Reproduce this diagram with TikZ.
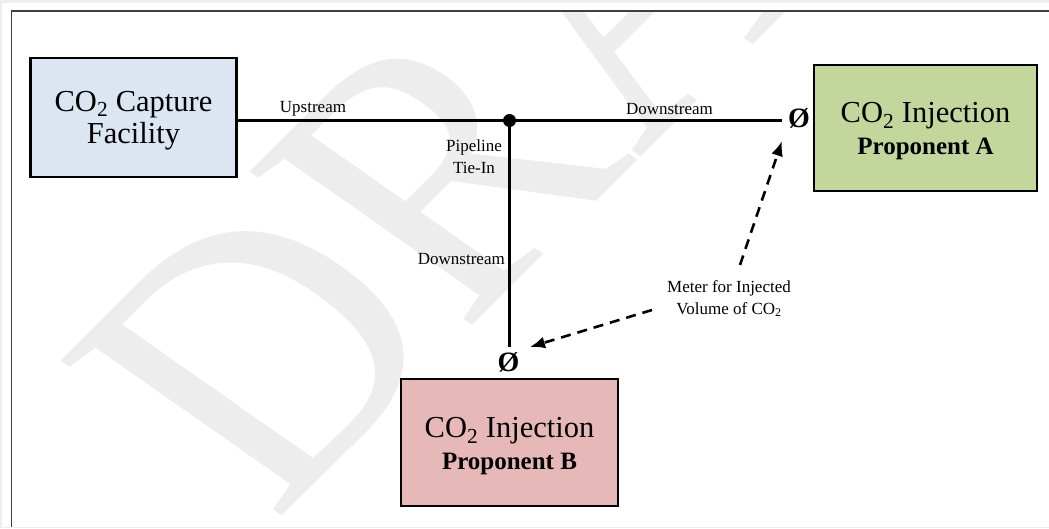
\documentclass[tikz,border=0pt]{standalone}
\usepackage{fontspec}
\setmainfont{Liberation Serif}
\usetikzlibrary{arrows.meta}
\definecolor{capblue}{HTML}{DCE6F2}
\definecolor{injgreen}{HTML}{C3D69B}
\definecolor{injpink}{HTML}{E6B9B8}
\definecolor{outergray}{HTML}{EEEEEE}
\definecolor{wmgray}{HTML}{EDEDED}
\definecolor{framegray}{HTML}{404040}
\begin{document}
\begin{tikzpicture}[x=1pt,y=1pt,
  box/.style={draw=black, line width=2.4pt, inner sep=0pt},
  boxtext/.style={align=center, inner sep=0pt, font=\fontsize{30.5}{32}\selectfont},
  pipe/.style={draw=black, line width=2.3pt},
  meterarrow/.style={draw=black, line width=2.6pt, dash pattern=on 10pt off 7pt, -{Latex[length=15pt,width=12pt]}},
  small/.style={font=\fontsize{17}{22}\selectfont, inner sep=0pt, align=center},
  valve/.style={font=\fontsize{28}{28}\selectfont\bfseries, inner sep=0pt}
]
\useasboundingbox (0,0) rectangle (1049,528);
\fill[outergray] (0,0) rectangle (1049,528);
\fill[white] (1.5,1.5) rectangle (1049,525);
\begin{scope}
  \clip (11.5,1.5) rectangle (1049,517);
  \node[cm={0.636,0.636,-0.819,0.574,(0,0)}, anchor=base west, text=wmgray, inner sep=0pt,
        font=\fontsize{412}{412}\selectfont] (wm) at (274,4) {DRAFT};
\end{scope}
\draw[framegray, line width=1.6pt] (11.5,1.5) -- (11.5,517) -- (1049,517);

% boxes
\node[box, fill=capblue, minimum width=206pt, minimum height=119pt] (cap) at (133.5,410.5) {};
\node[boxtext] (captxt) at ([yshift=-3pt]cap.center) {CO\textsubscript{2} Capture\\Facility};
\node[box, fill=injgreen, minimum width=223pt, minimum height=126pt] (inja) at (925.5,400) {};
\node[boxtext] (injatxt) at ([yshift=-3.5pt]inja.center)
  {CO\textsubscript{2} Injection\\{\fontsize{25}{28}\selectfont\bfseries Proponent A}};
\node[box, fill=injpink, minimum width=217pt, minimum height=127pt] (injb) at (509.5,85.5) {};
\node[boxtext] (injbtxt) at ([yshift=-4pt]injb.center)
  {CO\textsubscript{2} Injection\\{\fontsize{25}{28}\selectfont\bfseries Proponent B}};

% tie-in and valves
\coordinate (tie) at (509.5,407.5);
\node[valve] (va) at (799,410) {Ø};
\node[valve] (vb) at (508.5,166) {Ø};

\draw[pipe] (tie -| cap.east) -- (tie);
\draw[pipe] (tie) -- (782,407.5);
\draw[pipe] (tie) -- (509.5,181);
\fill (tie) circle (6.5pt);

% labels
\node[small] (up) at (313,419) {Upstream};
\node[small] (downa) at (669.5,419) {Downstream};
\node[small] (tielbl) at (474,371) {Pipeline\\Tie-In};
\node[small, anchor=east] (downb) at (505,268.5) {Downstream};
\node[small] (meter) at (729,229.5) {Meter for Injected\\Volume of CO\textsubscript{2}};

% meter arrows
\coordinate (m1) at (740,263);
\coordinate (m2) at (652,218);
\coordinate (ta) at (782,387);
\coordinate (tb) at (530,181);
\draw[meterarrow] (m1) -- (ta);
\draw[meterarrow] (m2) -- (tb);
\end{tikzpicture}
\end{document}
